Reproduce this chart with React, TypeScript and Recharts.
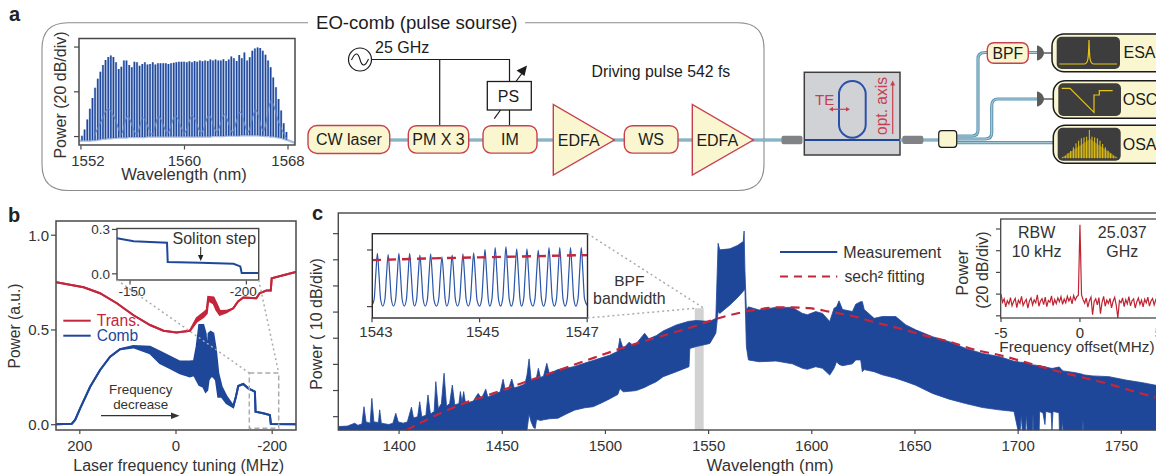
// App.tsx - EO-comb setup (a), soliton step trace (b), comb spectrum (c)
import React from "react";
import { Area, ComposedChart, Line, ReferenceArea, XAxis, YAxis } from "recharts";

const FONT = "'Liberation Sans', Arial, sans-serif";
const BLUE = "#1f4799";
const RED = "#c4263c";
const TEXT = "#333";
const DARK = "#1c1c1c";
const FRAME = "#484848";
const CREAM = "#faf6cf";
const BOX_RED = "#c8404f";

// panel a: pump comb teeth
const aToothWave = [
	1551.85, 1552.08, 1552.28, 1552.49, 1552.69, 1552.89, 1553.09, 1553.3, 1553.5, 1553.7, 1553.9,
	1554.11, 1554.31, 1554.51, 1554.71, 1554.92, 1555.12, 1555.32, 1555.52, 1555.73, 1555.93,
	1556.13, 1556.33, 1556.53, 1556.74, 1556.94, 1557.14, 1557.34, 1557.55, 1557.75, 1557.95,
	1558.15, 1558.36, 1558.56, 1558.76, 1558.96, 1559.17, 1559.37, 1559.57, 1559.77, 1559.97,
	1560.18, 1560.38, 1560.58, 1560.78, 1560.98, 1561.19, 1561.39, 1561.59, 1561.8, 1562.0,
	1562.2, 1562.4, 1562.61, 1562.81, 1563.01, 1563.22, 1563.42, 1563.62, 1563.82, 1564.03,
	1564.23, 1564.43, 1564.63, 1564.84, 1565.04, 1565.24, 1565.44, 1565.65, 1565.85, 1566.05,
	1566.26, 1566.46, 1566.66, 1566.86, 1567.07, 1567.27, 1567.47, 1567.67, 1567.88, 1568.08, 1568.54,
];
const aToothPeak = [
	-0.1, 0.02, 0.16, 0.38, 0.62, 0.86, 1.09, 1.29, 1.45, 1.6, 1.71,
	1.78, 1.81, 1.78, 1.66, 1.51, 1.56, 1.7, 1.7, 1.6, 1.55,
	1.67, 1.66, 1.58, 1.62, 1.66, 1.61, 1.62, 1.66, 1.61, 1.64,
	1.64, 1.64, 1.64, 1.62, 1.64, 1.65, 1.66, 1.67, 1.67, 1.67,
	1.66, 1.68, 1.66, 1.69, 1.67, 1.7, 1.68, 1.7, 1.69, 1.72,
	1.7, 1.72, 1.7, 1.7, 1.73, 1.69, 1.72, 1.79, 1.75, 1.69,
	1.82, 1.75, 1.88, 1.7, 1.77, 1.92, 1.97, 1.99, 1.98, 1.92,
	1.83, 1.7, 1.55, 1.32, 1.1, 0.84, 0.58, 0.3, 0.1, -0.09, -0.14,
];
const aToothFloor = [
	-0.1, -0.09, -0.09, -0.09, -0.09, -0.08, -0.08, -0.07, -0.06, -0.05, -0.05,
	-0.04, -0.04, -0.03, -0.03, -0.02, -0.02, -0.02, -0.02, -0.01, -0.01,
	-0.01, -0.01, -0.01, -0.01, -0.01, 0, 0, 0, 0, 0,
	0, 0, 0, 0, 0, 0, 0, 0, 0, 0,
	0, 0, 0, 0, 0, 0, 0, 0, 0, 0,
	0.01, 0.01, 0.01, 0.01, 0.01, 0.02, 0.02, 0.02, 0.02, 0.02,
	0.02, 0.03, 0.03, 0.03, 0.03, 0.03, 0.03, 0.03, 0.02, 0.02,
	0.01, 0.01, 0, 0, -0.01, -0.02, -0.03, -0.05, -0.07, -0.09, -0.14,
];
const aArcWave = [1553, 1553.5, 1554.1, 1554.7, 1555.1, 1555.6, 1556.3, 1556.8, 1557.5, 1558, 1558.7, 1559.3, 1560, 1560.6, 1561.3, 1561.9, 1562.5, 1563.1, 1563.7, 1564.3, 1564.9, 1565.5, 1566.1, 1566.7, 1567.3, 1567.9];
const aArcPower = [0, 0.3, 0.62, 0.35, 0.05, 0.45, 0.05, 0.42, 0.05, 0.45, 0.08, 0.47, 0.08, 0.47, 0.08, 0.48, 0.1, 0.5, 0.1, 0.55, 0.1, 0.6, 0.12, 0.8, 0.3, -0.05];

// panel b: main trace
const bTransTuning = [249, 192, 158, 123, 89, 54, 26, -1, -29, -43, -57, -64, -67, -78, -84, -91, -105, -119, -129, -140, -167, -174, -188, -197, -199, -223, -249];
const bTransTop = [0.752, 0.725, 0.694, 0.641, 0.579, 0.526, 0.496, 0.486, 0.496, 0.562, 0.59, 0.606, 0.675, 0.672, 0.64, 0.6, 0.601, 0.614, 0.65, 0.671, 0.667, 0.694, 0.708, 0.708, 0.773, 0.789, 0.806];
const bTransBottom = [0.752, 0.725, 0.694, 0.641, 0.579, 0.526, 0.496, 0.486, 0.496, 0.544, 0.568, 0.588, 0.655, 0.64, 0.605, 0.58, 0.593, 0.614, 0.65, 0.671, 0.667, 0.694, 0.708, 0.708, 0.773, 0.789, 0.806];
const bCombTuning = [249, 216.6, 209.7, 199.3, 178.5, 157.8, 137, 116.3, 88.6, 54, 33.2, 12.5, -8.3, -29, -37.4, -42.9, -48.4, -56.7, -61.6, -65, -67.8, -72, -77.5, -83, -87.9, -94.8, -105.2, -119, -124.6, -129.4, -139.8, -150.2, -164, -165.4, -181.3, -195.2, -197.2, -249.1];
const bCombTop = [0.002, 0.005, 0.025, 0.086, 0.2, 0.289, 0.359, 0.398, 0.415, 0.412, 0.386, 0.359, 0.333, 0.333, 0.336, 0.412, 0.526, 0.526, 0.482, 0.359, 0.482, 0.491, 0.482, 0.394, 0.271, 0.201, 0.148, 0.099, 0.148, 0.204, 0.215, 0.192, 0.174, 0.069, 0.06, 0.051, 0.004, 0.002];
const bCombBottom = [0.002, 0.005, 0.025, 0.086, 0.2, 0.289, 0.359, 0.398, 0.408, 0.377, 0.324, 0.298, 0.271, 0.254, 0.262, 0.236, 0.21, 0.2, 0.174, 0.183, 0.236, 0.254, 0.254, 0.236, 0.148, 0.148, 0.113, 0.092, 0.148, 0.204, 0.215, 0.192, 0.174, 0.069, 0.06, 0.051, 0.004, 0.002];
// panel b: inset
const bInsetTuning = [-144.4, -151.6, -158.7, -165.9, -166.2, -180.2, -194.5, -197.4, -198, -205];
const bInsetPower = [0.24, 0.22, 0.215, 0.21, 0.08, 0.075, 0.068, 0.05, 0.005, 0.005];

// panel c: spectrum envelope, in divisions above the lowest tick
const cWave = [
	1370.4, 1375, 1378.5, 1380, 1382, 1383, 1384, 1386, 1386.8, 1387.8, 1390, 1390.6, 1391.4, 1395, 1397, 1398.4, 1399.6, 1402, 1404, 1406,
	1407, 1409, 1410, 1411, 1413, 1414, 1415.2, 1417, 1417.8, 1419, 1420.5, 1421.8, 1423, 1424.5, 1425.8, 1427, 1429, 1429.7, 1430.5, 1431.3,
	1432.2, 1436, 1438.3, 1440, 1442, 1443, 1446, 1449, 1450.4, 1451.5, 1453, 1454.6, 1455.8, 1458, 1461, 1462, 1463, 1464, 1465.2, 1466,
	1466.6, 1467.5, 1468.5, 1470, 1471.6, 1472.8, 1477, 1481, 1485, 1490, 1494, 1498, 1502, 1506, 1507, 1508.6, 1511.5, 1513, 1515, 1519,
	1521, 1524.7, 1528, 1534.4, 1540.5, 1540.9, 1544, 1550.6, 1553.5, 1554.6, 1555.4, 1560.3, 1564, 1566.8, 1567.2, 1567.6, 1568.3, 1569.3, 1574.5, 1582.6,
	1590.6, 1595.5, 1597.9, 1601.9, 1605.2, 1608.7, 1610.8, 1612, 1613.2, 1614.9, 1619.7, 1621.3, 1623.7, 1624.5, 1625.4, 1630.2, 1634.2, 1640.7, 1645.6, 1650.4,
	1658.5, 1666.6, 1674.6, 1682.7, 1690.8, 1698, 1699.9, 1701, 1701.5, 1702, 1703.6, 1704, 1704.4, 1706.9, 1707.2, 1707.5, 1710.2, 1710.4, 1712, 1713,
	1713.4, 1716, 1716.4, 1716.9, 1719.8, 1720, 1721.2, 1721.4, 1721.8, 1727.9, 1731.2, 1731.4, 1731.7, 1736, 1744.1, 1752.2, 1760.3, 1768,
];
const cTop = [
	-0.38, -0.36, -0.25, -0.33, -0.28, 0.38, -0.2, -0.25, 0.7, -0.2, -0.22, 0.26, -0.25, -0.3, -0.25, 0.13, -0.2, -0.25, -0.2, 0.36,
	-0.05, 0, 0.57, 0, 0.05, 0.83, 0.1, 0.2, 1.34, 0.3, 0.5, 1.66, 0.4, 0.5, 1.21, 0.45, 0.5, 0.96, 0.55, 0.96,
	0.5, 0.6, 0.89, 0.7, 1.05, 0.75, 0.85, 0.95, 1.43, 1.0, 1.05, 1.44, 1.1, 1.15, 1.25, 1.6, 2.21, 1.4, 1.42, 1.45,
	1.5, 1.85, 1.5, 1.55, 2.04, 1.65, 1.8, 1.85, 1.92, 2.05, 2.15, 2.25, 2.35, 2.5, 3.0, 2.6, 2.85, 2.75, 2.8, 3.19,
	2.98, 3.1, 3.28, 3.51, 3.65, 3.65, 3.68, 3.64, 3.76, 6.63, 6.38, 6.42, 6.55, 6.7, 7.1, 5.6, 4.08, 4.2, 4.08, 4.18,
	4.18, 3.95, 3.9, 4.02, 3.95, 3.64, 4.15, 4.2, 4.43, 4.1, 4.02, 4.3, 4.4, 4.4, 4.1, 3.76, 3.83, 3.83, 3.51, 3.32,
	3.06, 2.87, 2.61, 2.42, 2.3, 2.12, 2.1, 2.08, 2.08, 2.08, 2.05, 2.05, 2.05, 1.98, 1.98, 1.98, 1.95, 1.95, 1.92, 1.92,
	1.9, 1.85, 1.85, 1.85, 1.9, 1.9, 1.78, 1.78, 1.75, 1.68, 1.62, 1.62, 1.6, 1.56, 1.53, 1.4, 1.3, 1.18,
];
const cBottom = [
	-0.51, -0.51, -0.51, -0.51, -0.51, -0.51, -0.51, -0.51, -0.51, -0.51, -0.51, -0.51, -0.51, -0.51, -0.51, -0.51, -0.51, -0.51, -0.51, -0.51,
	-0.51, -0.51, -0.51, -0.51, -0.51, -0.51, -0.51, -0.51, -0.51, -0.51, -0.51, -0.51, -0.51, -0.51, -0.51, -0.51, -0.51, -0.51, -0.51, -0.51,
	-0.51, -0.51, -0.51, -0.51, -0.51, -0.51, -0.51, -0.51, -0.51, -0.51, -0.51, -0.51, -0.51, -0.51, -0.51, -0.51, 0.1, -0.2, -0.42, -0.45,
	-0.12, -0.12, -0.15, -0.12, -0.1, -0.08, -0.06, 0.1, 0.25, 0.34, 0.38, 0.52, 0.68, 0.85, 1.08, 0.95, 0.97, 0.98, 1.0, 1.12,
	1.2, 1.34, 1.53, 1.72, 1.91, 2.61, 2.68, 2.8, 3.19, 4.02, 3.95, 4.27, 4.55, 4.8, 4.85, 4.85, 2.68, 2.17, 2.1, 2.13,
	2.02, 1.85, 1.81, 1.91, 1.85, 1.59, 1.85, 2.1, 2.0, 1.95, 2.02, 2.17, 2.17, 1.72, 1.8, 1.72, 1.6, 1.47, 1.34, 1.2,
	0.89, 0.67, 0.5, 0.35, 0.26, 0.2, -0.51, -0.51, 0.1, -0.51, -0.51, 0.15, -0.51, -0.51, 0.1, -0.51, -0.51, 0.2, 0.15, -0.3,
	0.2, 0.15, -0.51, 0.2, 0.15, -0.51, -0.51, -0.1, -0.51, -0.51, -0.51, -0.1, -0.51, -0.51, -0.51, -0.51, -0.51, -0.51,
];
const cFitWave = [1403.6, 1414.9, 1429.4, 1445.6, 1461.7, 1477.9, 1494, 1510.2, 1526.3, 1542.5, 1553.8, 1566.7, 1574.8, 1584.2, 1590.6, 1598.7, 1608.4, 1619.7, 1631, 1642.3, 1655.3, 1666.6, 1679.5, 1690.8, 1703.7, 1716.6, 1729.6, 1742.5, 1753.8, 1766.4];
const cFit = [-0.51, -0.06, 0.45, 0.89, 1.34, 1.79, 2.24, 2.68, 3.06, 3.44, 3.74, 4.0, 4.11, 4.18, 4.18, 4.15, 4.02, 3.85, 3.6, 3.38, 3.09, 2.87, 2.55, 2.36, 2.08, 1.79, 1.53, 1.28, 1.02, 0.74];

// panel c: zoomed comb lines near 1545 nm
const cInsetWave = [
	1543.0, 1543.04, 1543.07, 1543.1, 1543.13, 1543.16,
	1543.2, 1543.24, 1543.27, 1543.3, 1543.33, 1543.36,
	1543.4, 1543.44, 1543.47, 1543.5, 1543.53, 1543.56,
	1543.6, 1543.64, 1543.67, 1543.7, 1543.73, 1543.76,
	1543.79, 1543.83, 1543.86, 1543.89, 1543.92, 1543.95,
	1543.99, 1544.03, 1544.06, 1544.09, 1544.12, 1544.15,
	1544.2, 1544.24, 1544.27, 1544.3, 1544.33, 1544.36,
	1544.39, 1544.43, 1544.46, 1544.49, 1544.52, 1544.55,
	1544.59, 1544.63, 1544.66, 1544.69, 1544.72, 1544.75,
	1544.79, 1544.83, 1544.86, 1544.89, 1544.92, 1544.95,
	1545.0, 1545.04, 1545.07, 1545.1, 1545.13, 1545.16,
	1545.19, 1545.23, 1545.26, 1545.29, 1545.32, 1545.35,
	1545.39, 1545.43, 1545.46, 1545.49, 1545.52, 1545.55,
	1545.59, 1545.63, 1545.66, 1545.69, 1545.72, 1545.75,
	1545.78, 1545.82, 1545.85, 1545.88, 1545.91, 1545.94,
	1545.99, 1546.03, 1546.06, 1546.09, 1546.12, 1546.15,
	1546.19, 1546.23, 1546.26, 1546.29, 1546.32, 1546.35,
	1546.39, 1546.43, 1546.46, 1546.49, 1546.52, 1546.55,
	1546.59, 1546.63, 1546.66, 1546.69, 1546.72, 1546.75,
	1546.79, 1546.83, 1546.86, 1546.89, 1546.92, 1546.95, 1547.0,
];
const cInsetPower = [
	0.02, 0.13, 0.56, 0.94, 0.56, 0.13,
	0.01, 0.13, 0.56, 0.92, 0.56, 0.13,
	0.01, 0.13, 0.56, 0.94, 0.56, 0.13,
	0.01, 0.13, 0.56, 0.94, 0.56, 0.13,
	0.01, 0.13, 0.56, 0.91, 0.56, 0.13,
	0.01, 0.13, 0.56, 0.93, 0.56, 0.13,
	0.01, 0.13, 0.55, 0.88, 0.55, 0.13,
	0.01, 0.13, 0.56, 0.91, 0.56, 0.13,
	0.01, 0.13, 0.56, 0.93, 0.56, 0.13,
	0.01, 0.13, 0.57, 0.95, 0.57, 0.13,
	0.01, 0.14, 0.6, 1.01, 0.6, 0.14,
	0.01, 0.14, 0.62, 1.04, 0.62, 0.14,
	0.01, 0.14, 0.63, 1.06, 0.63, 0.14,
	0.01, 0.14, 0.61, 1.02, 0.61, 0.14,
	0.01, 0.14, 0.61, 1.02, 0.61, 0.14,
	0.01, 0.14, 0.6, 1.0, 0.6, 0.14,
	0.01, 0.14, 0.62, 1.04, 0.62, 0.14,
	0.01, 0.14, 0.62, 1.04, 0.62, 0.14,
	0.01, 0.14, 0.62, 1.04, 0.62, 0.14,
	0.01, 0.14, 0.62, 1.04, 0.62, 0.14, 0.02,
];
const cInsetFitWave = [1543, 1544, 1545, 1546, 1547];
const cInsetFit = [0.82, 0.85, 0.87, 0.89, 0.91];

// panel c: beat note, one value per 0.1 MHz from -5 to 5
const rbwNoise = [
	1.0, 0.62, 0.78, 0.41, 0.7, 0.55, 0.84, 0.46, 0.66, 0.8, 0.38, 0.72, 0.58, 0.9, 0.48, 0.64, 0.76, 0.35, 0.69, 0.82,
	0.5, 0.74, 0.6, 0.97, 0.44, 0.68, 0.79, 0.52, 0.86, 0.42, 0.71, 0.63, 0.92, 0.47, 0.75, 0.56, 0.83, 0.65, 0.88, 0.53,
	0.77, 0.6, 0.9, 0.68, 0.85, 0.55, 0.93, 0.72, 0.88, 0.95, 4.2, 0.96, 0.74, 0.58, 0.82, 0.4, 0.7, 0.86, 0.05, 0.66,
	0.78, 0.5, 0.84, 0.1, 0.62, 0.9, 0.44, 0.73, 0.57, 0.8, 0.37, 0.67, 0.85, 0.48, -0.1, 0.7, 0.6, 0.83, 0.42, 0.75,
	0.55, 0.88, 0.46, 0.69, 0.78, 0.36, 0.64, 0.82, 0.52, 0.72, 0.41, 0.76, 0.59, 0.86, 0.45, 0.68, 0.8, 0.5, 0.74, 0.6, 0.84,
];

// tick labels
const aXTicks = [1552, 1560, 1568];
const aYTicks = [0, 1, 2];
const bXTicks = [200, 0, -200];
const bYTicks = [0, 0.5, 1];
const bInsetXTicks = [-150, -200];
const bInsetYTicks = [0, 0.3];
const cXTicks = [1400, 1450, 1500, 1550, 1600, 1650, 1700, 1750];
const cYTicks = [0, 1, 2, 3, 4, 5, 6, 7];
const cInsetXTicks = [1543, 1545, 1547];
const cInsetYTicks = [0, 1];
const rbwXTicks = [-5, 0, 5];
const rbwYTicks = [0, 1, 2, 3, 4];

// tables for the library
const aSkirt = aToothWave.flatMap((x, i) => [
	{ x, y: aToothFloor[i] },
	{ x, y: aToothPeak[i] },
	{ x, y: aToothFloor[i] },
]);
// a null row breaks the line, so only the vertical teeth are dark
const aTeeth = aToothWave.flatMap((x, i) => [
	{ x, y: aToothFloor[i] },
	{ x, y: aToothPeak[i] },
	{ x, y: null },
]);
const aArc = aArcWave.map((x, i) => ({ x, y: aArcPower[i] }));
const bTrans = bTransTuning.map((x, i) => ({ x, y: [bTransBottom[i], bTransTop[i]] }));
const bComb = bCombTuning.map((x, i) => ({ x, y: [bCombBottom[i], bCombTop[i]] }));
const bInset = bInsetTuning.map((x, i) => ({ x, y: bInsetPower[i] }));
const cSpectrum = cWave.map((x, i) => ({ x, y: [cBottom[i], cTop[i]] }));
const cFitLine = cFitWave.map((x, i) => ({ x, y: cFit[i] }));
const cInset = cInsetWave.map((x, i) => ({ x, y: cInsetPower[i] }));
const cInsetFitLine = cInsetFitWave.map((x, i) => ({ x, y: cInsetFit[i] }));
const rbw = rbwNoise.map((y, i) => ({ x: (i - 50) / 10, y }));

// the plot area lands exactly on x0..x1, y0..y1 of the page
const Y_W = 46;
const X_H = 34;
const PAD = 6;
const PAD_R = 30;
const plotBox = (x0: number, x1: number, y0: number, y1: number) => ({
	width: x1 - x0 + Y_W + PAD_R,
	height: y1 - y0 + PAD + X_H,
	margin: { top: PAD, right: PAD_R, bottom: 0, left: 0 },
	style: { position: "absolute" as const, left: x0 - Y_W, top: y0 - PAD },
});

const tickText = { fontFamily: FONT, fontSize: 15, fill: TEXT };
const noLabel = () => "";
const xProps = { dataKey: "x", type: "number" as const, height: X_H, axisLine: false, tickLine: { stroke: FRAME, strokeWidth: 1.2 }, tickSize: 4, tickMargin: 6, tick: tickText, interval: 0 as const, allowDuplicatedCategory: false };
const yProps = { type: "number" as const, width: Y_W, axisLine: false, tickLine: { stroke: FRAME, strokeWidth: 1.2 }, tickSize: 5, tick: tickText, interval: 0 as const };

// some tick labels in the figure sit off their tick
const shiftedTick = (shifts: Record<number, number>, dy: number, size = 15) => ({ x, y, payload }: any) => (
	<text x={x + (shifts[payload.value] ?? 0)} y={y + dy} textAnchor="middle" fontFamily={FONT} fontSize={size} fill={TEXT}>
		{payload.value}
	</text>
);

const T = ({ x, y, size = 16, anchor = "start", rotate, fill = TEXT, weight, children }: any) => (
	<text x={x} y={y} fontSize={size} textAnchor={anchor} fill={fill} fontWeight={weight} fontFamily={FONT} transform={rotate ? `rotate(${rotate} ${x} ${y})` : undefined}>
		{children}
	</text>
);

const Block = ({ x, y, w, h, r = 8, label, cx, size = 16 }: any) => (
	<g>
		<rect x={x} y={y} width={w} height={h} rx={r} fill={CREAM} stroke={BOX_RED} strokeWidth={1.4} />
		<T x={cx ?? x + w / 2} y={y + h / 2 + 5.5} anchor="middle" fill={DARK} size={size}>
			{label}
		</T>
	</g>
);

const Amp = ({ x, tx }: any) => (
	<g>
		<polygon points={`${x},104.5 ${x},175 ${x + 61},140`} fill={CREAM} stroke={BOX_RED} strokeWidth={1.4} />
		<T x={tx} y={145.5} anchor="middle" fill={DARK}>
			EDFA
		</T>
	</g>
);

const Fiber = ({ d }: any) => (
	<g fill="none">
		<path d={d} stroke="#5f97b3" strokeWidth={3.2} />
		<path d={d} stroke="#b4d0dc" strokeWidth={1} />
	</g>
);

const Instrument = ({ x, y, h, sx, sw, sy, sh, label, tx }: any) => (
	<g>
		<rect x={x} y={y} width={130} height={h} rx={12} fill={CREAM} stroke={DARK} strokeWidth={1.5} />
		<rect x={sx} y={sy} width={sw} height={sh} rx={5} fill="#3d3d3d" />
		<T x={tx} y={y + h / 2 + 5.5} fill={DARK}>
			{label}
		</T>
	</g>
);

const Detector = ({ y }: any) => (
	<g>
		<path d={`M1037 ${y - 7.5} C1041 ${y - 7},1044 ${y - 3},1044 ${y} C1044 ${y + 3},1041 ${y + 7},1037 ${y + 7.5} Z`} fill="#5c5c5c" />
		<line x1={1044} y1={y} x2={1053} y2={y} stroke="#333" strokeWidth={1.2} />
	</g>
);

const osaBarX = [848, 856, 864, 872, 880, 888, 896, 904, 912, 920, 928, 936, 944, 952, 960, 968, 976, 984, 992, 1000, 1008];
const osaBarTop = [412, 408, 400, 393, 382, 370, 362, 355, 352, 350, 330, 350, 352, 355, 362, 372, 382, 392, 400, 408, 412];

function Overlay() {
	return (
		<svg width={1156} height={474} style={{ position: "absolute", left: 0, top: 0, pointerEvents: "none" }}>
			{/* panel letters */}
			<T x={9} y={20.5} size={20} weight="bold" fill="#222">a</T>
			<T x={8} y={221.5} size={20} weight="bold" fill="#222">b</T>
			<T x={312} y={220} size={20} weight="bold" fill="#222">c</T>

			{/* EO-comb enclosure */}
			<path d="M308 22.7 H68 Q42 22.7 42 48.7 V164.5 Q42 190.5 68 190.5 H738 Q764 190.5 764 164.5 V48.7 Q764 22.7 738 22.7 H525" fill="none" stroke="#8c8c8c" strokeWidth={1.1} />
			<T x={316} y={28.5} size={18.6} fill={DARK}>EO-comb (pulse sourse)</T>

			{/* panel a frame and labels */}
			<rect x={79} y={38.5} width={216} height={106.5} fill="none" stroke={FRAME} strokeWidth={1.5} />
			<T x={184} y={180} anchor="middle" size={16.6}>Wavelength (nm)</T>
			<T x={66} y={95} anchor="middle" rotate={-90}>Power (20 dB/div)</T>

			{/* drive electronics */}
			<Fiber d="M389 140 H782" />
			<circle cx={360} cy={59.5} r={11.5} fill="#fff" stroke={DARK} strokeWidth={1.2} />
			<path d="M351.5 60 C355 52,358 52,360 59.5 C362 67,365 67,368.5 59" fill="none" stroke={DARK} strokeWidth={1.1} />
			<T x={375} y={53} fill={DARK}>25 GHz</T>
			<path d="M371.5 59.5 H509.5 V81.5 M439.7 59.5 V126 M509.5 110 V126" fill="none" stroke={DARK} strokeWidth={1.2} />
			<rect x={487.3} y={81.5} width={44} height={28.5} fill="#fff" stroke={DARK} strokeWidth={1.3} />
			<T x={508.5} y={102} anchor="middle" fill={DARK}>PS</T>
			<path d="M494.3 118.7 L500.5 110 M516 81.5 L523 72" fill="none" stroke={DARK} strokeWidth={1.2} />
			<polygon points="527,65.5 524.5,76 516.5,70.5" fill={DARK} />
			<T x={591.5} y={77} fill={DARK} size={15.8}>Driving pulse 542 fs</T>

			<Block x={308} y={125.5} w={81.7} h={28} r={9} label="CW laser" />
			<Block x={408.3} y={125.7} w={60.4} h={27.4} label="PM X 3" />
			<Block x={483} y={125.7} w={54} h={27.4} label="IM" />
			<Amp x={553.3} tx={578.7} />
			<Block x={624.3} y={125.7} w={53.7} h={27.4} label="WS" />
			<Amp x={692.3} tx={717.3} />

			{/* chip */}
			<rect x={781.5} y={135.7} width={21} height={8.6} rx={2} fill="#808285" />
			<rect x={804.3} y={72.3} width={95.7} height={82.7} fill="#d0d2d5" stroke="#3e3e3e" strokeWidth={1.5} />
			<line x1={805} y1={140} x2={899.5} y2={140} stroke={BLUE} strokeWidth={2} />
			<rect x={839} y={81} width={26.7} height={56.7} rx={13.3} fill="none" stroke="#2b50a8" strokeWidth={2} />
			<T x={815} y={105} size={15} fill={BOX_RED}>TE</T>
			<path d="M831 109.3 H848" stroke={BOX_RED} strokeWidth={1.2} />
			<polygon points="829,109.3 833,107 833,111.6" fill={BOX_RED} />
			<polygon points="850,109.3 846,107 846,111.6" fill={BOX_RED} />
			<T x={886.5} y={135} size={15.6} rotate={-90} fill={BOX_RED}>opt. axis</T>
			<line x1={892.7} y1={134} x2={892.7} y2={84} stroke={BOX_RED} strokeWidth={1.2} />
			<polygon points="892.7,80.5 890.2,85.5 895.2,85.5" fill={BOX_RED} />

			{/* output fibres and instruments */}
			<Fiber d="M900 140 H940" />
			<rect x={902.3} y={135.7} width={21} height={8.4} rx={2} fill="#808285" />
			<Fiber d="M956 136 H972 Q978 136 978 130 V59 Q978 52.5 985 52.5 H1038" />
			<Fiber d="M956 139 H985 Q991.7 139 991.7 133 V106 Q991.7 99 998 99 H1038" />
			<Fiber d="M956 142.7 H1054" />
			<rect x={938.7} y={130.7} width={18} height={16.6} rx={3} fill={CREAM} stroke={DARK} strokeWidth={1.2} />
			<Block x={987.3} y={42.7} w={41} h={20.6} r={6.5} label="BPF" size={15.8} />
			<Detector y={53} />
			<Detector y={99} />
			<Instrument x={1052} y={34} h={37.7} sx={1056.7} sw={63.3} sy={36.7} sh={32.3} label="ESA" tx={1123.5} />
			<Instrument x={1053.3} y={80.7} h={37.6} sx={1058.3} sw={62.7} sy={83.3} sh={32.7} label="OSC" tx={1122.7} />
			<Instrument x={1053.3} y={125.3} h={38} sx={1057.7} sw={63} sy={127.7} sh={33} label="OSA" tx={1122.7} />
			<path d="M1059.3 64 H1084 C1088 64,1088.5 60,1089 40 C1089.5 60,1090 64,1094 64 H1117" fill="none" stroke="#e6c514" strokeWidth={1.2} />
			<path d="M1061.7 88.3 H1070 L1094 112.3 V95 H1099.3 V90.7 H1112.7" fill="none" stroke="#e6c514" strokeWidth={1.2} />
			<polygon points="1061,158 1090,139 1118,158" fill="#8a7a22" />
			{osaBarX.map((z, i) => (
				<line key={z} x1={780 + z / 3} x2={780 + z / 3} y1={158.3} y2={20 + osaBarTop[i] / 3} stroke="#e6c514" strokeWidth={1} />
			))}

			{/* panel b frame and annotations */}
			<rect x={56} y={221} width={240} height={209} fill="none" stroke={FRAME} strokeWidth={1.5} />
			<rect x={117} y={228.5} width={141.7} height={51.5} fill="none" stroke={FRAME} strokeWidth={1.4} />
			<T x={19.5} y={326} anchor="middle" rotate={-90} size={15.6}>Power (a.u.)</T>
			<T x={178.7} y={470.5} anchor="middle">Laser frequency tuning (MHz)</T>
			<line x1={63.3} x2={90.7} y1={320.7} y2={320.7} stroke={RED} strokeWidth={2} />
			<T x={96.7} y={326} size={15.6} fill={RED}>Trans.</T>
			<line x1={63.3} x2={90.7} y1={335.7} y2={335.7} stroke={BLUE} strokeWidth={2} />
			<T x={96.7} y={340.7} size={15.6} fill={BLUE}>Comb</T>
			<T x={140.7} y={393.5} anchor="middle" size={13.4}>Frequency</T>
			<T x={140.7} y={409} anchor="middle" size={13.4}>decrease</T>
			<line x1={101} x2={173} y1={415.7} y2={415.7} stroke="#333" strokeWidth={1.3} />
			<polygon points="179.5,415.7 171,412.5 171,419" fill="#333" />
			<T x={172.5} y={243.5}>Soliton step</T>
			<line x1={200.7} x2={200.7} y1={247} y2={257} stroke="#222" strokeWidth={1} />
			<polygon points="200.7,261 198,255 203.4,255" fill="#222" />
			<rect x={249.3} y={373} width={29.4} height={55.3} fill="none" stroke="#ababab" strokeWidth={1.5} strokeDasharray="5 3" />
			<line x1={117} y1={280} x2={249.3} y2={373} stroke="#ababab" strokeWidth={1.5} strokeDasharray="2 3" />
			<line x1={258.7} y1={280} x2={278.7} y2={373} stroke="#ababab" strokeWidth={1.5} strokeDasharray="2 3" />

			{/* panel c frames and annotations */}
			<rect x={338.3} y={213} width={830} height={217} fill="none" stroke={FRAME} strokeWidth={1.4} />
			<rect x={372.3} y={233.7} width={215.2} height={84.3} fill="none" stroke="#2c2c2c" strokeWidth={1.4} />
			<rect x={1000.7} y={219} width={170} height={99} fill="none" stroke={FRAME} strokeWidth={1.3} />
			<T x={322.3} y={324} anchor="middle" rotate={-90}>Power ( 10 dB/div)</T>
			<T x={770} y={470.5} anchor="middle" size={16.8}>Wavelength (nm)</T>
			<line x1={587.5} y1={233.7} x2={704} y2={308.3} stroke="#ababab" strokeWidth={1.5} strokeDasharray="2 3" />
			<line x1={587.5} y1={318} x2={695} y2={308.3} stroke="#ababab" strokeWidth={1.5} strokeDasharray="2 3" />
			<T x={629.3} y={286} anchor="middle" size={15.5}>BPF</T>
			<T x={629.3} y={304.3} anchor="middle" size={15.9}>bandwidth</T>
			<line x1={780} x2={837.3} y1={252} y2={252} stroke={BLUE} strokeWidth={2} />
			<T x={843.3} y={257.5}>Measurement</T>
			<line x1={780} x2={837.3} y1={276.5} y2={276.5} stroke={RED} strokeWidth={2} strokeDasharray="8 6" />
			<T x={844.5} y={281.5} size={15.7}>sech² fitting</T>
			<T x={968} y={272.7} anchor="middle" rotate={-90}>Power</T>
			<T x={988} y={270} anchor="middle" rotate={-90}>(20 dB/div)</T>
			<T x={1036.7} y={237.7} anchor="middle">RBW</T>
			<T x={1036.7} y={257.3} anchor="middle">10 kHz</T>
			<T x={1122.3} y={237.7} anchor="middle">25.037</T>
			<T x={1122.3} y={257.3} anchor="middle">GHz</T>
			<T x={999.3} y={351.7} size={15.3}>Frequency offset(MHz)</T>
		</svg>
	);
}

export default function App() {
	return (
		<div style={{ position: "absolute", left: 0, top: 0, width: 1156, height: 474, overflow: "hidden", background: "#fff", fontFamily: FONT }}>
			{/* a: pump comb */}
			<ComposedChart {...plotBox(79, 295, 38.5, 145)}>
				<XAxis {...xProps} domain={[1551.85, 1568.54]} ticks={aXTicks} tickMargin={2} tick={shiftedTick({ 1552: 7 }, 14)} />
				<YAxis {...yProps} domain={[-0.2, 2.18]} ticks={aYTicks} tickFormatter={noLabel} />
				<Line data={aSkirt} dataKey="y" type="linear" stroke="#a9bde2" strokeWidth={2.4} dot={false} isAnimationActive={false} />
				<Line data={aTeeth} dataKey="y" type="linear" stroke={BLUE} strokeWidth={1.4} dot={false} isAnimationActive={false} />
				<Line data={aArc} dataKey="y" type="monotone" stroke="#5f84c6" strokeWidth={1.1} dot={false} isAnimationActive={false} />
			</ComposedChart>

			{/* b: main trace */}
			<ComposedChart {...plotBox(56, 296, 221, 430)}>
				<XAxis {...xProps} domain={[-249.5, 249.5]} reversed ticks={bXTicks} />
				<YAxis {...yProps} domain={[-0.028, 1.075]} ticks={bYTicks} tickFormatter={(v: number) => v.toFixed(1)} />
				<Area data={bTrans} dataKey="y" type="linear" stroke={RED} strokeWidth={2} fill={RED} fillOpacity={1} dot={false} isAnimationActive={false} />
				<Area data={bComb} dataKey="y" type="linear" stroke={BLUE} strokeWidth={2} fill={BLUE} fillOpacity={1} dot={false} isAnimationActive={false} />
			</ComposedChart>

			{/* b: inset */}
			<ComposedChart {...plotBox(117, 258.7, 228.5, 280)}>
				<XAxis {...xProps} domain={[-205.3, -144.5]} reversed ticks={bInsetXTicks} tickMargin={2} tick={shiftedTick({ [-150]: 2, [-200]: -3 }, 10, 13.5)} />
				<YAxis {...yProps} domain={[-0.045, 0.303]} ticks={bInsetYTicks} tick={{ ...tickText, fontSize: 13.5 }} tickFormatter={(v: number) => v.toFixed(1)} />
				<Line data={bInset} dataKey="y" type="linear" stroke={BLUE} strokeWidth={2} dot={false} isAnimationActive={false} />
			</ComposedChart>

			{/* c: full spectrum */}
			<ComposedChart {...plotBox(338.3, 1160, 213, 430)}>
				<XAxis {...xProps} domain={[1370.4, 1768.6]} ticks={cXTicks} />
				<YAxis {...yProps} domain={[-0.51, 7.79]} ticks={cYTicks} tickFormatter={noLabel} />
				<ReferenceArea x1={1543.3} x2={1547.6} y1={-0.51} y2={4.15} fill="#d2d2d2" fillOpacity={1} stroke="none" />
				<Area data={cSpectrum} dataKey="y" type="linear" stroke={BLUE} strokeWidth={0.8} fill={BLUE} fillOpacity={1} dot={false} isAnimationActive={false} />
				<Line data={cFitLine} dataKey="y" type="monotone" stroke={RED} strokeWidth={2.2} strokeDasharray="9 6" dot={false} isAnimationActive={false} />
			</ComposedChart>

			{/* c: zoomed comb lines */}
			<ComposedChart {...plotBox(372.3, 587.5, 233.7, 318)}>
				<XAxis {...xProps} domain={[1543, 1547]} ticks={cInsetXTicks} tickMargin={2} tick={shiftedTick({ 1543: 4, 1545: 3, 1547: -5 }, 13)} />
				<YAxis {...yProps} domain={[-0.206, 1.282]} ticks={cInsetYTicks} tickFormatter={noLabel} />
				<Line data={cInset} dataKey="y" type="monotone" stroke="#2a55a8" strokeWidth={1.2} dot={false} isAnimationActive={false} />
				<Line data={cInsetFitLine} dataKey="y" type="linear" stroke={RED} strokeWidth={2.4} strokeDasharray="9 6" dot={false} isAnimationActive={false} />
			</ComposedChart>

			{/* c: beat note */}
			<ComposedChart {...plotBox(1000.7, 1158.6, 219, 318)}>
				<XAxis {...xProps} domain={[-5, 5]} ticks={rbwXTicks} tickMargin={5} />
				<YAxis {...yProps} domain={[-0.08, 4.46]} ticks={rbwYTicks} tickFormatter={noLabel} />
				<Line data={rbw} dataKey="y" type="linear" stroke="#bf2332" strokeWidth={1.2} dot={false} isAnimationActive={false} />
			</ComposedChart>

			<Overlay />
		</div>
	);
}
